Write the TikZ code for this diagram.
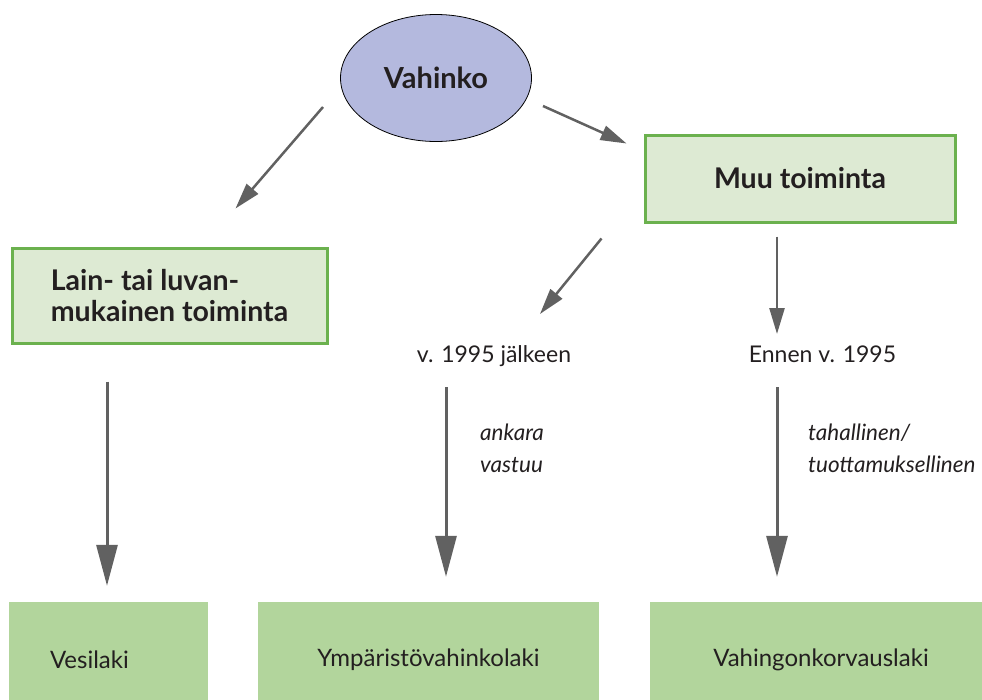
\documentclass[tikz,border=0pt]{standalone}
\usepackage{fontspec}
\setmainfont{Lato}
\usetikzlibrary{calc,arrows.meta,shapes.geometric}
\definecolor{lavender}{HTML}{B4B9DE}
\definecolor{paleleaf}{HTML}{DDEAD3}
\definecolor{leafline}{HTML}{6BB14E}
\definecolor{lawgreen}{HTML}{B2D59C}
\definecolor{arrowgray}{HTML}{616161}
\definecolor{ink}{HTML}{231F20}
\tikzset{
  cause/.style={ % the ellipse on top
    ellipse, draw=black, line width=0.8pt, fill=lavender,
    minimum width=191pt, minimum height=127pt, inner sep=0pt,
    text=ink, font=\bfseries\fontsize{29}{31}\selectfont
  },
  branch/.style={ % pale boxes with a green frame
    rectangle, draw=leafline, line width=3pt, fill=paleleaf,
    inner sep=0pt, text=ink, align=left,
    font=\bfseries\fontsize{28.5}{31}\selectfont
  },
  law/.style={ % the three acts at the bottom
    rectangle, fill=lawgreen, minimum height=116pt,
    inner sep=0pt, text=ink, font=\fontsize{24}{26}\selectfont
  },
  period/.style={text=ink, inner sep=0pt, font=\fontsize{23}{26}\selectfont},
  note/.style={text=ink, inner sep=0pt, align=left, font=\itshape\fontsize{22.5}{32}\selectfont},
  arrow/.style={draw=arrowgray, line width=2.5pt, -{Triangle[length=26pt,width=15pt]}},
  bigarrow/.style={draw=arrowgray, line width=3pt, -{Triangle[length=41pt,width=21pt]}}
}
\begin{document}
\begin{tikzpicture}[x=1pt,y=-1pt]
  \useasboundingbox (0,0) rectangle (982,699);

  \node[cause] (vahinko) at (436,78) {Vahinko};
  \node[branch, minimum width=310pt, minimum height=87pt] (muu) at (800,178.5) {Muu toiminta};
  \node[branch, minimum width=315pt, minimum height=95pt] (lain) at (169.5,295.5) {Lain- tai luvan-\\mukainen toiminta};

  \node[period, anchor=base] (after) at (494,362) {v. 1995 jälkeen};
  \node[period, anchor=base] (before) at (822.5,362) {Ennen v. 1995};
  \node[note, anchor=base west] (ankara) at (480,472) {ankara\\vastuu};
  \node[note, anchor=base west] (tahallinen) at (808,472) {tahallinen/\\tuottamuksellinen};

  \node[law, minimum width=199pt, text width=117pt, inner xsep=41pt, align=left] (vesi) at (108.5,660) {Vesilaki};
  \node[law, minimum width=341pt] (ymp) at (428.5,660) {Ympäristövahinkolaki};
  \node[law, minimum width=342pt] (korvaus) at (821,660) {Vahingonkorvauslaki};

  \draw[arrow] ($(vahinko)+(-113,29)$) -- ($(lain.north)+(66,-38)$);
  \draw[arrow] ($(vahinko)+(107,28)$) -- ($(muu.west)+(-17,-35)$);
  \draw[arrow] ($(muu.south west)+(-42,15)$) -- ($(after.base)+(46,-48)$);
  \draw[arrow] ($(muu.south)+(-23,13)$) -- ($(before.base)+(-45.5,-28)$);
  \draw[bigarrow] ($(lain.south)+(-62.5,37)$) -- ($(vesi.north)+(-1.5,-16)$);
  \draw[bigarrow] ($(after.base)+(-48,25)$) -- ($(ymp.north)+(17.5,-25)$);
  \draw[bigarrow] ($(before.base)+(-45.5,25)$) -- ($(korvaus.north)+(-44,-25)$);
\end{tikzpicture}
\end{document}
